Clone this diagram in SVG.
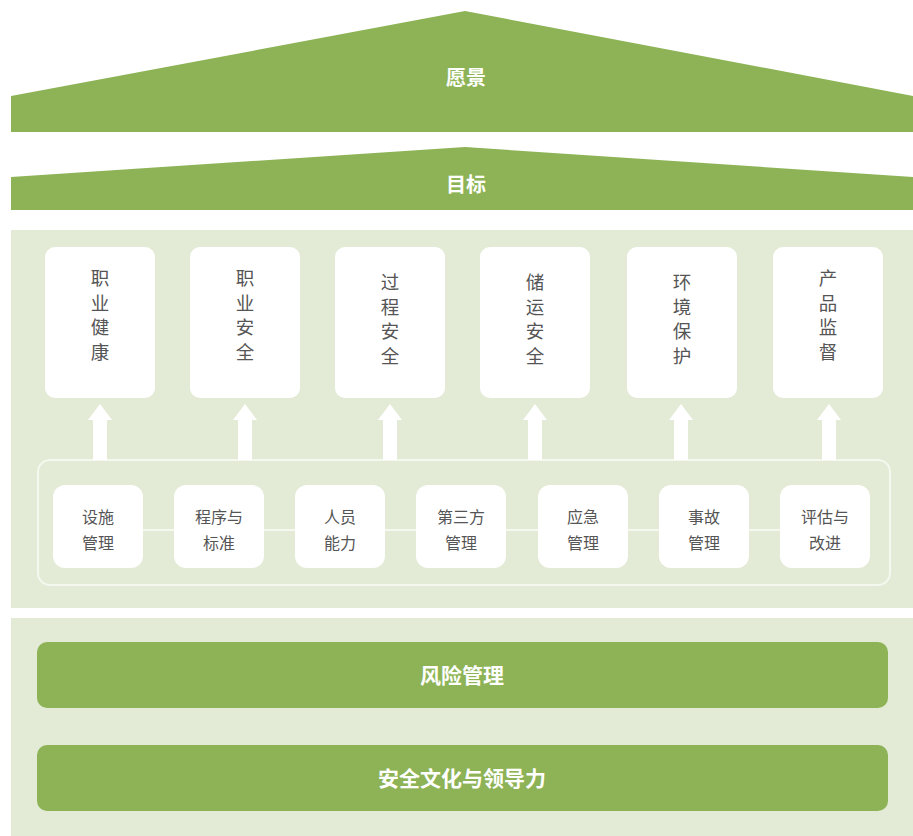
<svg xmlns="http://www.w3.org/2000/svg" width="913" height="836" viewBox="0 0 913 836">
<style>
.green{fill:#8db356}
.panel{fill:#e3ebd6}
.card{fill:#ffffff}
.white-t{font-family:"Noto Sans CJK SC","Noto Sans",sans-serif;font-weight:bold;fill:#ffffff;text-anchor:middle}
.gray-t{font-family:"Noto Sans CJK SC","Noto Sans",sans-serif;fill:#555555;text-anchor:middle}
.vt{font-size:18.5px}
.st{font-size:16px}
.arrow{fill:#ffffff}
</style>
<rect width="913" height="836" fill="#ffffff"/>
<g id="vision">
<polygon class="green" points="11,96 465,11 913,96 913,132 11,132"/>
<text class="white-t" x="466" y="85" font-size="20">愿景</text>
</g>
<g id="goal">
<polygon class="green" points="11,177 465,147 913,177 913,210 11,210"/>
<text class="white-t" x="466" y="192" font-size="20">目标</text>
</g>
<rect class="panel" x="11" y="230" width="902" height="378"/>
<rect class="panel" x="11" y="618" width="902" height="218"/>
<g id="pillars">
<g id="p1"><rect class="card" x="45" y="247" width="110" height="151" rx="10"/>
<text class="gray-t vt"><tspan x="100" y="285">职</tspan><tspan x="100" y="309.5">业</tspan><tspan x="100" y="334">健</tspan><tspan x="100" y="358.5">康</tspan></text></g>
<g id="p2"><rect class="card" x="190" y="247" width="110" height="151" rx="10"/>
<text class="gray-t vt"><tspan x="245" y="285">职</tspan><tspan x="245" y="309.5">业</tspan><tspan x="245" y="334">安</tspan><tspan x="245" y="358.5">全</tspan></text></g>
<g id="p3"><rect class="card" x="335" y="247" width="110" height="151" rx="10"/>
<text class="gray-t vt"><tspan x="390" y="289">过</tspan><tspan x="390" y="313.5">程</tspan><tspan x="390" y="338">安</tspan><tspan x="390" y="362.5">全</tspan></text></g>
<g id="p4"><rect class="card" x="480" y="247" width="110" height="151" rx="10"/>
<text class="gray-t vt"><tspan x="535" y="289">储</tspan><tspan x="535" y="313.5">运</tspan><tspan x="535" y="338">安</tspan><tspan x="535" y="362.5">全</tspan></text></g>
<g id="p5"><rect class="card" x="627" y="247" width="110" height="151" rx="10"/>
<text class="gray-t vt"><tspan x="682" y="289">环</tspan><tspan x="682" y="313.5">境</tspan><tspan x="682" y="338">保</tspan><tspan x="682" y="362.5">护</tspan></text></g>
<g id="p6"><rect class="card" x="773" y="247" width="110" height="151" rx="10"/>
<text class="gray-t vt"><tspan x="828" y="285">产</tspan><tspan x="828" y="309.5">品</tspan><tspan x="828" y="334">监</tspan><tspan x="828" y="358.5">督</tspan></text></g>
</g>
<g id="connectors">
<rect x="38" y="460" width="852" height="125" rx="12" fill="none" stroke="#f4f8ee" stroke-width="2"/>
<line x1="143" y1="530" x2="780" y2="530" stroke="#f4f8ee" stroke-width="2"/>
<polygon class="arrow" points="100,404 112,420 107,420 107,460 93,460 93,420 88,420"/>
<polygon class="arrow" points="245,404 257,420 252,420 252,460 238,460 238,420 233,420"/>
<polygon class="arrow" points="390,404 402,420 397,420 397,460 383,460 383,420 378,420"/>
<polygon class="arrow" points="535,404 547,420 542,420 542,460 528,460 528,420 523,420"/>
<polygon class="arrow" points="681,404 693,420 688,420 688,460 674,460 674,420 669,420"/>
<polygon class="arrow" points="829,404 841,420 836,420 836,460 822,460 822,420 817,420"/>
</g>
<g id="elements">
<g id="e1"><rect class="card" x="53" y="485" width="90" height="83" rx="12"/>
<text class="gray-t st"><tspan x="98" y="523">设施</tspan><tspan x="98" y="549">管理</tspan></text></g>
<g id="e2"><rect class="card" x="174" y="485" width="90" height="83" rx="12"/>
<text class="gray-t st"><tspan x="219" y="523">程序与</tspan><tspan x="219" y="549">标准</tspan></text></g>
<g id="e3"><rect class="card" x="295" y="485" width="90" height="83" rx="12"/>
<text class="gray-t st"><tspan x="340" y="523">人员</tspan><tspan x="340" y="549">能力</tspan></text></g>
<g id="e4"><rect class="card" x="416" y="485" width="90" height="83" rx="12"/>
<text class="gray-t st"><tspan x="461" y="523">第三方</tspan><tspan x="461" y="549">管理</tspan></text></g>
<g id="e5"><rect class="card" x="538" y="485" width="90" height="83" rx="12"/>
<text class="gray-t st"><tspan x="583" y="523">应急</tspan><tspan x="583" y="549">管理</tspan></text></g>
<g id="e6"><rect class="card" x="659" y="485" width="90" height="83" rx="12"/>
<text class="gray-t st"><tspan x="704" y="523">事故</tspan><tspan x="704" y="549">管理</tspan></text></g>
<g id="e7"><rect class="card" x="780" y="485" width="90" height="83" rx="12"/>
<text class="gray-t st"><tspan x="825" y="523">评估与</tspan><tspan x="825" y="549">改进</tspan></text></g>
</g>
<g id="risk">
<rect class="green" x="37" y="642" width="851" height="66" rx="10"/>
<text class="white-t" x="462" y="683" font-size="21">风险管理</text>
</g>
<g id="culture">
<rect class="green" x="37" y="745" width="851" height="66" rx="10"/>
<text class="white-t" x="462" y="786" font-size="21">安全文化与领导力</text>
</g>
</svg>
